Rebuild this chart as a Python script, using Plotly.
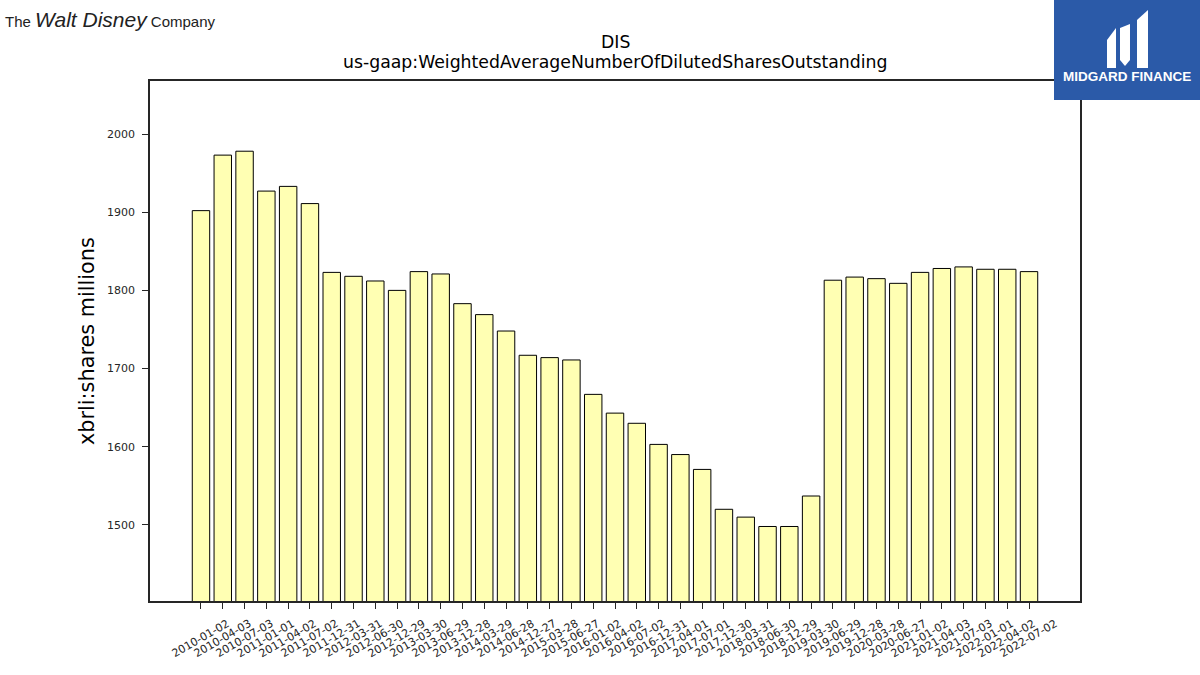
import plotly.graph_objects as go

dates = ["2010-01-02", "2010-04-03", "2010-07-03", "2011-01-01", "2011-04-02", "2011-07-02",
         "2011-12-31", "2012-03-31", "2012-06-30", "2012-12-29", "2013-03-30", "2013-06-29",
         "2013-12-28", "2014-03-29", "2014-06-28", "2014-12-27", "2015-03-28", "2015-06-27",
         "2016-01-02", "2016-04-02", "2016-07-02", "2016-12-31", "2017-04-01", "2017-07-01",
         "2017-12-30", "2018-03-31", "2018-06-30", "2018-12-29", "2019-03-30", "2019-06-29",
         "2019-12-28", "2020-03-28", "2020-06-27", "2021-01-02", "2021-04-03", "2021-07-03",
         "2022-01-01", "2022-04-02", "2022-07-02"]
shares = [1902, 1973, 1978, 1927, 1933, 1911,
          1823, 1818, 1812, 1800, 1824, 1821,
          1783, 1769, 1748, 1717, 1714, 1711,
          1667, 1643, 1630, 1603, 1590, 1571,
          1520, 1510, 1498, 1498, 1537, 1813,
          1817, 1815, 1809, 1823, 1828, 1830,
          1827, 1827, 1824]
y_ticks = [1500, 1600, 1700, 1800, 1900, 2000]

title_main = "DIS"
title_sub = "us-gaap:WeightedAverageNumberOfDilutedSharesOutstanding"
y_title = "xbrli:shares millions"

W, H = 1200, 675
L, R, T, B = 150, 1080, 81, 601
FONT = "DejaVu Sans"


def px(x):
    return (x - L) / (R - L)


def py(y):
    return (B - y) / (B - T)


fig = go.Figure()
fig.add_trace(go.Bar(
    x=dates, y=shares,
    marker=dict(color="#ffffb3", line=dict(color="#000000", width=1)),
    hoverinfo="x+y",
))

axis_col = "#262626"
fig.update_layout(
    width=W, height=H,
    margin=dict(l=L, r=W - R, t=T, b=H - B, pad=0),
    paper_bgcolor="white", plot_bgcolor="white",
    bargap=0.2,
    showlegend=False,
    font=dict(family=FONT, color="#000000"),
    xaxis=dict(
        type="category", range=[-2.34, 40.34],
        showline=True, linecolor=axis_col, linewidth=1.5, mirror=True,
        ticks="outside", ticklen=6, tickwidth=1.3, tickcolor=axis_col,
        showticklabels=False,
        showgrid=False, zeroline=False, fixedrange=True,
    ),
    yaxis=dict(
        range=[1402.7, 2067.8],
        tickvals=y_ticks, ticktext=[str(v) for v in y_ticks],
        showline=True, linecolor=axis_col, linewidth=1.5, mirror=True,
        ticks="outside", ticklen=6, tickwidth=1.3, tickcolor=axis_col,
        tickfont=dict(size=11, family=FONT, color="#262626"),
        ticklabelstandoff=5,
        showgrid=False, zeroline=False, fixedrange=True,
    ),
)

annotations = [
    dict(text=title_main, x=px(615), y=py(42), xref="paper", yref="paper",
         showarrow=False, xanchor="center", yanchor="middle",
         font=dict(size=17.3, family=FONT, color="#000000")),
    dict(text=title_sub, x=px(615), y=py(62), xref="paper", yref="paper",
         showarrow=False, xanchor="center", yanchor="middle",
         font=dict(size=17.3, family=FONT, color="#000000")),
    dict(text=y_title, x=px(87), y=py(341), xref="paper", yref="paper",
         showarrow=False, xanchor="center", yanchor="middle", textangle=-90,
         font=dict(size=20.8, family=FONT, color="#000000")),
    dict(text="The <i><span style='font-size:21px'>Walt Disney</span></i> Company",
         x=px(3), y=py(20), xref="paper", yref="paper",
         showarrow=False, xanchor="left", yanchor="middle",
         font=dict(size=15, family="Liberation Sans", color="#222222")),
    dict(text="<b>MIDGARD FINANCE</b>", x=px(1127), y=py(76), xref="paper", yref="paper",
         showarrow=False, xanchor="center", yanchor="middle",
         font=dict(size=13.5, family="Liberation Sans", color="#ffffff")),
]

# x tick labels, centred on each category tick and rotated 30 degrees
for d in dates:
    annotations.append(dict(
        text=d, x=d, xref="x", y=py(616), yref="paper",
        showarrow=False, xanchor="center", yanchor="top", textangle=-30,
        borderpad=0,
        font=dict(size=11, family=FONT, color="#262626"),
    ))
fig.update_layout(annotations=annotations)


def path_px(points):
    s = "M " + " L ".join(f"{px(x):.5f},{py(y):.5f}" for x, y in points) + " Z"
    return s


shapes = [
    dict(type="rect", xref="paper", yref="paper", x0=px(1054), x1=px(1200), y0=py(100), y1=py(0),
         fillcolor="#2b5aa8", line=dict(width=0), layer="above"),
    dict(type="path", xref="paper", yref="paper",
         path=path_px([(1107, 40), (1116, 28), (1116, 68), (1107, 68)]),
         fillcolor="white", line=dict(width=0), layer="above"),
    dict(type="path", xref="paper", yref="paper",
         path=path_px([(1120, 28), (1130, 24), (1130, 60), (1125, 66), (1120, 60)]),
         fillcolor="white", line=dict(width=0), layer="above"),
    dict(type="path", xref="paper", yref="paper",
         path=path_px([(1137, 20), (1148, 10), (1148, 68), (1137, 68)]),
         fillcolor="white", line=dict(width=0), layer="above"),
]
fig.update_layout(shapes=shapes)

fig.write_html("out.html")
